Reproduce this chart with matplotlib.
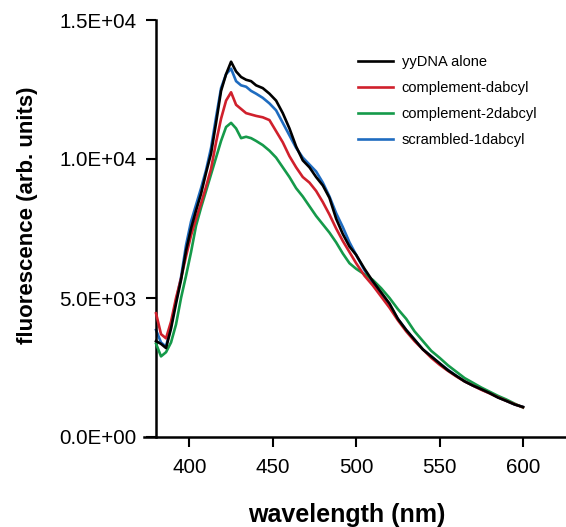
import matplotlib
matplotlib.use("Agg")
import matplotlib.pyplot as plt

plt.rcParams['font.family'] = ['Liberation Sans', 'DejaVu Sans']

# wavelength grid (nm) and fluorescence readings (arb. units)
wavelength = [380, 383, 386, 389, 392, 395, 398, 401, 404, 407, 410, 413, 416, 419,
              422, 425, 428, 431, 434, 437, 440, 444, 448, 452, 456, 460, 464, 468,
              472, 476, 480, 484, 488, 492, 496, 500, 505, 510, 515, 520, 525, 530,
              535, 540, 545, 550, 555, 560, 565, 570, 575, 580, 585, 590, 595, 600]

yydna_alone = [3450, 3350, 3200, 3900, 4800, 5650, 6700, 7500, 8150, 8750, 9500, 10200,
               11300, 12450, 13050, 13500, 13150, 12950, 12850, 12800, 12650, 12550,
               12350, 12100, 11650, 11100, 10450, 9950, 9700, 9350, 9050, 8600, 7850,
               7300, 6850, 6550, 6050, 5600, 5200, 4800, 4250, 3850, 3500, 3150, 2900,
               2650, 2400, 2200, 2000, 1850, 1720, 1580, 1420, 1300, 1170, 1080]

complement_dabcyl = [4450, 3700, 3550, 4150, 5000, 5700, 6500, 7250, 7850, 8400, 9000,
                     9650, 10600, 11450, 12100, 12400, 11950, 11800, 11650, 11600, 11550,
                     11500, 11400, 11000, 10600, 10100, 9700, 9350, 9150, 8850, 8450,
                     8000, 7500, 7050, 6650, 6250, 5800, 5450, 5050, 4650, 4200, 3800,
                     3450, 3150, 2850, 2600, 2380, 2180, 2000, 1850, 1700, 1570, 1430,
                     1300, 1180, 1070]

complement_2dabcyl = [3360, 2900, 3050, 3400, 4050, 5000, 5800, 6650, 7600, 8250, 8850,
                      9450, 10050, 10650, 11150, 11300, 11100, 10750, 10800, 10750, 10650,
                      10500, 10300, 10050, 9700, 9350, 8950, 8650, 8300, 7950, 7650, 7350,
                      7000, 6600, 6250, 6050, 5850, 5650, 5350, 5000, 4600, 4250, 3800,
                      3450, 3100, 2850, 2580, 2350, 2120, 1950, 1780, 1630, 1480, 1350,
                      1200, 1060]

scrambled_1dabcyl = [3850, 3400, 3250, 4000, 4900, 5750, 6900, 7750, 8350, 8950, 9600,
                     10400, 11500, 12550, 13050, 13250, 12800, 12650, 12600, 12450, 12350,
                     12200, 12000, 11750, 11300, 10850, 10400, 10050, 9800, 9550, 9150,
                     8650, 8050, 7550, 7000, 6550, 6000, 5550, 5150, 4750, 4250, 3850,
                     3500, 3150, 2900, 2650, 2420, 2200, 2010, 1850, 1710, 1580, 1430,
                     1300, 1170, 1080]

fig = plt.figure(figsize=(5.66, 5.27), dpi=100)
ax = fig.add_axes([144 / 566, 1 - 437 / 527, 422 / 566, 417 / 527])

lw = 1.9
l_blue, = ax.plot(wavelength, scrambled_1dabcyl, color='#1f6cc0', lw=lw, label='scrambled-1dabcyl', zorder=2)
l_green, = ax.plot(wavelength, complement_2dabcyl, color='#159a4a', lw=lw, label='complement-2dabcyl', zorder=3)
l_red, = ax.plot(wavelength, complement_dabcyl, color='#d0202c', lw=lw, label='complement-dabcyl', zorder=4)
l_black, = ax.plot(wavelength, yydna_alone, color='black', lw=lw, label='yyDNA alone', zorder=5)

ax.set_xlim(372.8, 625.8)
ax.set_ylim(0, 15000)
ax.set_xticks([400, 450, 500, 550, 600])
ax.set_yticks([0, 5000, 10000, 15000])
ax.set_yticklabels(['0.0E+00', '5.0E+03', '1.0E+04', '1.5E+04'])

for s in ['top', 'right']:
    ax.spines[s].set_visible(False)
ax.spines['left'].set_position(('data', 380))
for s in ['left', 'bottom']:
    ax.spines[s].set_linewidth(1.8)
ax.tick_params(direction='out', length=7, width=1.5, labelsize=14.8)
ax.tick_params(axis='y', pad=7)
ax.tick_params(axis='x', pad=8)

ax.set_xlabel('wavelength (nm)', fontsize=18, fontweight='bold', va='center')
ax.set_ylabel('fluorescence (arb. units)', fontsize=16, fontweight='bold', va='center')
ax.xaxis.set_label_coords(0.481, -0.188)
ax.yaxis.set_label_coords(-0.277, 0.532)

ax.legend(handles=[l_black, l_red, l_green, l_blue], loc='upper left',
          bbox_to_anchor=(358 / 566, 1 - 55 / 527), bbox_transform=fig.transFigure,
          frameon=False, fontsize=10.5, handlelength=2.4, handletextpad=0.6,
          labelspacing=0.82, borderpad=0, borderaxespad=0)

fig.savefig('out.png', dpi=100)
